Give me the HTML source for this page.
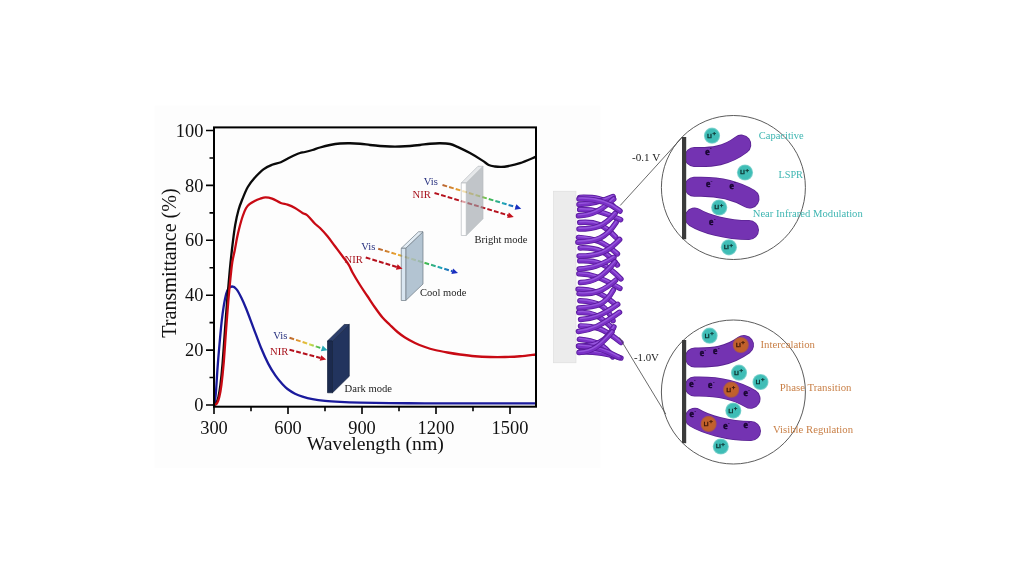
<!DOCTYPE html>
<html lang="en"><head><meta charset="utf-8"><title>Electrochromic modes</title>
<style>html,body{margin:0;padding:0;background:#fff;width:1024px;height:576px;overflow:hidden}svg{display:block}</style>
</head><body>
<svg width="1024" height="576" viewBox="0 0 1024 576">
<defs>
<linearGradient id="visB" gradientUnits="userSpaceOnUse" x1="442" y1="185" x2="521" y2="209"><stop offset="0" stop-color="#b5602f"/><stop offset=".22" stop-color="#e9a12e"/><stop offset=".42" stop-color="#e3dc4a"/><stop offset=".6" stop-color="#3fb84e"/><stop offset=".78" stop-color="#1fa6b8"/><stop offset="1" stop-color="#1a2fc0"/></linearGradient>
<linearGradient id="visC" gradientUnits="userSpaceOnUse" x1="378" y1="249" x2="458" y2="273"><stop offset="0" stop-color="#b5602f"/><stop offset=".22" stop-color="#e9a12e"/><stop offset=".42" stop-color="#e3dc4a"/><stop offset=".6" stop-color="#3fb84e"/><stop offset=".78" stop-color="#1fa6b8"/><stop offset="1" stop-color="#1a2fc0"/></linearGradient>
<linearGradient id="visD" gradientUnits="userSpaceOnUse" x1="289" y1="338" x2="327" y2="350"><stop offset="0" stop-color="#b5602f"/><stop offset=".3" stop-color="#e9a12e"/><stop offset=".55" stop-color="#d8dc4a"/><stop offset=".8" stop-color="#3fb84e"/><stop offset="1" stop-color="#1fa6b8"/></linearGradient>
<radialGradient id="teal"><stop offset="0" stop-color="#3fbdb6"/><stop offset=".8" stop-color="#3fbdb6"/><stop offset="1" stop-color="#3fbdb6" stop-opacity=".55"/></radialGradient>
<radialGradient id="org"><stop offset="0" stop-color="#c4622c"/><stop offset=".8" stop-color="#c0602c"/><stop offset="1" stop-color="#b2583a" stop-opacity=".7"/></radialGradient>
<linearGradient id="rodg" x1="0" y1="0" x2="0" y2="1"><stop offset="0" stop-color="#7d39bb"/><stop offset="1" stop-color="#6a2aa6"/></linearGradient>
</defs>
<rect width="1024" height="576" fill="#ffffff"/>
<rect x="154.6" y="105.6" width="446" height="362.4" fill="#fdfdfd"/>
<g fill="none" stroke-linejoin="round" stroke-linecap="round">
<path d="M214.00,405.00 C214.15,404.33 214.57,403.25 214.90,401.00 C215.23,398.75 215.55,397.13 216.00,391.50 C216.45,385.87 217.00,375.28 217.60,367.20 C218.20,359.12 218.87,351.10 219.60,343.00 C220.33,334.90 221.10,325.93 222.00,318.60 C222.90,311.27 224.00,303.87 225.00,299.00 C226.00,294.13 226.80,291.48 228.00,289.40 C229.20,287.32 230.77,286.50 232.20,286.50 C233.63,286.50 235.05,287.48 236.60,289.40 C238.15,291.32 239.88,294.73 241.50,298.00 C243.12,301.27 244.28,303.95 246.30,309.00 C248.32,314.05 251.15,321.83 253.60,328.30 C256.05,334.77 258.57,341.92 261.00,347.80 C263.43,353.68 265.78,358.95 268.20,363.60 C270.62,368.25 273.12,372.25 275.50,375.70 C277.88,379.15 280.50,382.08 282.50,384.30 C284.50,386.52 285.42,387.43 287.50,389.00 C289.58,390.57 292.50,392.42 295.00,393.70 C297.50,394.98 299.58,395.78 302.50,396.70 C305.42,397.62 308.75,398.50 312.50,399.20 C316.25,399.90 320.42,400.45 325.00,400.90 C329.58,401.35 334.17,401.62 340.00,401.90 C345.83,402.18 351.67,402.40 360.00,402.60 C368.33,402.80 379.17,402.98 390.00,403.10 C400.83,403.22 414.00,403.25 425.00,403.30 C436.00,403.35 443.50,403.38 456.00,403.40 C468.50,403.42 486.75,403.42 500.00,403.40 C513.25,403.38 529.58,403.32 535.50,403.30" stroke="#1a1a9c" stroke-width="2.3"/>
<path d="M214.00,405.00 C214.38,404.70 215.57,404.53 216.30,403.20 C217.03,401.87 217.72,400.03 218.40,397.00 C219.08,393.97 219.70,390.67 220.40,385.00 C221.10,379.33 221.85,372.00 222.60,363.00 C223.35,354.00 224.15,341.23 224.90,331.00 C225.65,320.77 226.28,311.77 227.10,301.60 C227.92,291.43 228.90,279.43 229.80,270.00 C230.70,260.57 231.60,252.50 232.50,245.00 C233.40,237.50 234.20,230.83 235.20,225.00 C236.20,219.17 237.27,214.40 238.50,210.00 C239.73,205.60 241.05,202.43 242.60,198.60 C244.15,194.77 245.78,190.47 247.80,187.00 C249.82,183.53 252.10,180.75 254.70,177.80 C257.30,174.85 260.50,171.47 263.40,169.30 C266.30,167.13 269.20,165.98 272.10,164.80 C275.00,163.62 278.23,163.21 280.80,162.20 C283.37,161.19 285.13,159.95 287.50,158.75 C289.87,157.55 292.92,155.96 295.00,155.00 C297.08,154.04 298.33,153.50 300.00,153.00 C301.67,152.50 302.92,152.50 305.00,152.00 C307.08,151.50 310.00,150.75 312.50,150.00 C315.00,149.25 317.08,148.33 320.00,147.50 C322.92,146.67 326.67,145.67 330.00,145.00 C333.33,144.33 336.67,143.79 340.00,143.50 C343.33,143.21 346.67,143.21 350.00,143.25 C353.33,143.29 356.67,143.46 360.00,143.75 C363.33,144.04 366.67,144.62 370.00,145.00 C373.33,145.38 376.67,145.75 380.00,146.00 C383.33,146.25 386.67,146.42 390.00,146.50 C393.33,146.58 396.67,146.58 400.00,146.50 C403.33,146.42 406.67,146.25 410.00,146.00 C413.33,145.75 416.67,145.38 420.00,145.00 C423.33,144.62 426.67,144.04 430.00,143.75 C433.33,143.46 436.67,143.21 440.00,143.25 C443.33,143.29 447.08,143.39 450.00,144.00 C452.92,144.61 454.17,145.38 457.50,146.90 C460.83,148.42 465.83,150.82 470.00,153.10 C474.17,155.38 479.38,158.62 482.50,160.60 C485.62,162.58 486.67,164.02 488.75,165.00 C490.83,165.98 492.92,166.18 495.00,166.50 C497.08,166.82 499.17,166.94 501.25,166.90 C503.33,166.86 504.38,166.88 507.50,166.25 C510.62,165.62 515.33,164.66 520.00,163.10 C524.67,161.54 532.92,157.93 535.50,156.90" stroke="#0a0a0a" stroke-width="2.3"/>
<path d="M214.00,405.00 C214.50,404.73 216.12,404.73 217.00,403.40 C217.88,402.07 218.57,400.07 219.30,397.00 C220.03,393.93 220.67,390.67 221.40,385.00 C222.13,379.33 222.93,372.00 223.70,363.00 C224.47,354.00 225.22,341.50 226.00,331.00 C226.78,320.50 227.67,308.72 228.40,300.00 C229.13,291.28 229.75,285.03 230.40,278.70 C231.05,272.37 231.57,266.78 232.30,262.00 C233.03,257.22 234.02,254.00 234.80,250.00 C235.58,246.00 236.25,241.67 237.00,238.00 C237.75,234.33 238.37,231.58 239.30,228.00 C240.23,224.42 241.48,219.78 242.60,216.50 C243.72,213.22 244.85,210.35 246.00,208.30 C247.15,206.25 248.05,205.42 249.50,204.20 C250.95,202.98 252.95,201.91 254.70,201.00 C256.45,200.09 258.20,199.37 260.00,198.75 C261.80,198.13 263.48,197.33 265.50,197.30 C267.52,197.28 269.55,197.65 272.10,198.60 C274.65,199.55 278.23,201.98 280.80,203.00 C283.37,204.02 285.13,203.87 287.50,204.70 C289.87,205.53 292.50,206.62 295.00,208.00 C297.50,209.38 300.42,211.75 302.50,213.00 C304.58,214.25 305.42,213.71 307.50,215.50 C309.58,217.29 312.92,221.67 315.00,223.75 C317.08,225.83 317.92,225.92 320.00,228.00 C322.08,230.08 325.00,233.21 327.50,236.25 C330.00,239.29 332.50,242.92 335.00,246.25 C337.50,249.58 340.21,253.16 342.50,256.25 C344.79,259.34 347.08,262.09 348.75,264.80 C350.42,267.51 350.62,269.13 352.50,272.50 C354.38,275.87 357.50,281.04 360.00,285.00 C362.50,288.96 365.00,292.50 367.50,296.25 C370.00,300.00 372.50,303.96 375.00,307.50 C377.50,311.04 380.00,314.58 382.50,317.50 C385.00,320.42 387.50,322.58 390.00,325.00 C392.50,327.42 395.00,329.92 397.50,332.00 C400.00,334.08 402.08,335.67 405.00,337.50 C407.92,339.33 411.67,341.42 415.00,343.00 C418.33,344.58 421.67,345.83 425.00,347.00 C428.33,348.17 431.25,349.08 435.00,350.00 C438.75,350.92 443.33,351.75 447.50,352.50 C451.67,353.25 455.42,353.88 460.00,354.50 C464.58,355.12 470.00,355.83 475.00,356.25 C480.00,356.67 485.00,356.88 490.00,357.00 C495.00,357.12 500.00,357.12 505.00,357.00 C510.00,356.88 514.92,356.67 520.00,356.25 C525.08,355.83 532.92,354.79 535.50,354.50" stroke="#c80a14" stroke-width="2.3"/>
</g>
<rect x="214" y="127.4" width="322" height="279.3" fill="none" stroke="#000" stroke-width="2"/>
<path d="M206,405.00H214M209.5,377.55H214M206,350.10H214M209.5,322.65H214M206,295.20H214M209.5,267.75H214M206,240.30H214M209.5,212.85H214M206,185.40H214M209.5,157.95H214M206,130.50H214M214.00,406.7V414M251.00,406.7V411.3M288.00,406.7V414M325.00,406.7V411.3M362.00,406.7V414M399.00,406.7V411.3M436.00,406.7V414M473.00,406.7V411.3M510.00,406.7V414" stroke="#000" stroke-width="1.6" fill="none"/>
<g font-family="'Liberation Serif',serif" font-size="18.4" fill="#111" text-anchor="end">
<text x="203.4" y="411.10">0</text>
<text x="203.4" y="356.20">20</text>
<text x="203.4" y="301.30">40</text>
<text x="203.4" y="246.40">60</text>
<text x="203.4" y="191.50">80</text>
<text x="203.4" y="136.60">100</text>
</g>
<g font-family="'Liberation Serif',serif" font-size="18.4" fill="#111" text-anchor="middle">
<text x="214.00" y="433.5">300</text>
<text x="288.00" y="433.5">600</text>
<text x="362.00" y="433.5">900</text>
<text x="436.00" y="433.5">1200</text>
<text x="510.00" y="433.5">1500</text>
</g>
<text x="375.3" y="450" font-family="'Liberation Serif',serif" font-size="19.6" fill="#111" text-anchor="middle" textLength="137" lengthAdjust="spacingAndGlyphs">Wavelength (nm)</text>
<text transform="translate(176,263) rotate(-90)" font-family="'Liberation Serif',serif" font-size="20" fill="#111" text-anchor="middle" textLength="149.5" lengthAdjust="spacingAndGlyphs">Transmittance (%)</text>
<path d="M434.50,193.00L508.01,215.26" stroke="#b5101c" stroke-width="2.0" stroke-dasharray="4.8 2.1" fill="none"/><polygon points="513.75,217.00 507.17,218.04 508.85,212.49" fill="#c4101c"/>
<path d="M442.50,185.00L515.51,207.02" stroke="url(#visB)" stroke-width="2.0" stroke-dasharray="4.8 2.1" fill="none"/><polygon points="521.25,208.75 514.67,209.79 516.34,204.24" fill="#1a2fc0"/>
<g stroke="#8d939a" stroke-width=".7" stroke-linejoin="round" opacity="0.62"><polygon points="466.25,183 483,166.25 483,218.75 466.25,235.5" fill="#9da3aa"/><polygon points="461.25,183 466.25,183 483,166.25 478.0,166.25" fill="#d8dce0"/><rect x="461.25" y="183" width="5.0" height="52.5" fill="#ffffff"/></g>
<text x="474.5" y="242.5" font-family="'Liberation Serif',serif" font-size="10.6" fill="#222" textLength="53" lengthAdjust="spacingAndGlyphs">Bright mode</text>
<text x="423.75" y="184.5" font-family="'Liberation Serif',serif" font-size="10.6" fill="#27307e">Vis</text>
<text x="412.5" y="198.25" font-family="'Liberation Serif',serif" font-size="10.6" fill="#a8141e">NIR</text>
<path d="M378.25,248.75L452.26,271.25" stroke="url(#visC)" stroke-width="2.0" stroke-dasharray="4.8 2.1" fill="none"/><polygon points="458.00,273.00 451.42,274.03 453.10,268.48" fill="#1a2fc0"/>
<g stroke="#44525e" stroke-width=".7" stroke-linejoin="round" opacity="0.78"><polygon points="405.75,248.25 423,231.75 423,284.0 405.75,300.5" fill="#9fb5c7"/><polygon points="401.25,248.25 405.75,248.25 423,231.75 418.5,231.75" fill="#dbe8f2"/><rect x="401.25" y="248.25" width="4.5" height="52.25" fill="#cfe0ee"/></g>
<path d="M365.75,257.50L396.76,266.99" stroke="#b5101c" stroke-width="2.0" stroke-dasharray="4.8 2.1" fill="none"/><polygon points="402.50,268.75 395.91,269.77 397.61,264.22" fill="#c4101c"/>
<text x="420" y="296.3" font-family="'Liberation Serif',serif" font-size="10.6" fill="#222" textLength="46.3" lengthAdjust="spacingAndGlyphs">Cool mode</text>
<text x="361.25" y="250" font-family="'Liberation Serif',serif" font-size="10.6" fill="#27307e">Vis</text>
<text x="344.5" y="262.5" font-family="'Liberation Serif',serif" font-size="10.6" fill="#a8141e">NIR</text>
<g stroke="#16223f" stroke-width=".7" stroke-linejoin="round" opacity="1"><polygon points="332.5,341 349.25,324.5 349.25,376.25 332.5,392.75" fill="#22345e"/><polygon points="327.5,341 332.5,341 349.25,324.5 344.25,324.5" fill="#2c3f6c"/><rect x="327.5" y="341" width="5.0" height="51.75" fill="#1b2a4e"/></g>
<path d="M289.50,337.75L321.80,348.38" stroke="url(#visD)" stroke-width="2.0" stroke-dasharray="4.8 2.1" fill="none"/><polygon points="327.50,350.25 320.89,351.13 322.71,345.62" fill="#23a7b4"/>
<path d="M289.50,349.75L320.45,357.96" stroke="#b5101c" stroke-width="2.0" stroke-dasharray="4.8 2.1" fill="none"/><polygon points="326.25,359.50 319.71,360.76 321.19,355.16" fill="#c4101c"/>
<text x="344.5" y="391.5" font-family="'Liberation Serif',serif" font-size="10.6" fill="#222" textLength="47.5" lengthAdjust="spacingAndGlyphs">Dark mode</text>
<text x="273.25" y="339" font-family="'Liberation Serif',serif" font-size="10.6" fill="#27307e">Vis</text>
<text x="270" y="355.25" font-family="'Liberation Serif',serif" font-size="10.6" fill="#a8141e">NIR</text>
<rect x="553.4" y="191.2" width="22.6" height="171.6" fill="#ececec" stroke="#dcdcdc" stroke-width=".6"/>
<g fill="none" stroke-linecap="round">
<path d="M579.8,197.4 C594.8,197.0 603.8,198.4 613.1,205.9" stroke="#571a98" stroke-width="5.5"/>
<path d="M579.8,197.4 C594.8,197.0 603.8,198.4 613.1,205.9" stroke="#7a30c6" stroke-width="4.0"/>
<path d="M579.8,197.4 C594.8,197.0 603.8,198.4 613.1,205.9" stroke="#9657dc" stroke-width="1.4" transform="translate(0,-.9)"/>
<path d="M579.0,204.4 C590.8,204.2 599.8,202.4 613.1,196.6" stroke="#571a98" stroke-width="5.5"/>
<path d="M579.0,204.4 C590.8,204.2 599.8,202.4 613.1,196.6" stroke="#7a30c6" stroke-width="4.0"/>
<path d="M579.0,204.4 C590.8,204.2 599.8,202.4 613.1,196.6" stroke="#9657dc" stroke-width="1.4" transform="translate(0,-.9)"/>
<path d="M579.7,209.6 C595.2,209.3 604.2,212.6 620.6,219.7" stroke="#571a98" stroke-width="5.5"/>
<path d="M579.7,209.6 C595.2,209.3 604.2,212.6 620.6,219.7" stroke="#7a30c6" stroke-width="4.0"/>
<path d="M579.7,209.6 C595.2,209.3 604.2,212.6 620.6,219.7" stroke="#9657dc" stroke-width="1.4" transform="translate(0,-.9)"/>
<path d="M578.5,215.8 C591.1,215.2 600.1,211.4 613.7,199.0" stroke="#571a98" stroke-width="5.5"/>
<path d="M578.5,215.8 C591.1,215.2 600.1,211.4 613.7,199.0" stroke="#7a30c6" stroke-width="4.0"/>
<path d="M578.5,215.8 C591.1,215.2 600.1,211.4 613.7,199.0" stroke="#9657dc" stroke-width="1.4" transform="translate(0,-.9)"/>
<path d="M579.7,222.6 C594.9,221.3 603.9,224.3 615.7,237.1" stroke="#571a98" stroke-width="5.5"/>
<path d="M579.7,222.6 C594.9,221.3 603.9,224.3 615.7,237.1" stroke="#7a30c6" stroke-width="4.0"/>
<path d="M579.7,222.6 C594.9,221.3 603.9,224.3 615.7,237.1" stroke="#9657dc" stroke-width="1.4" transform="translate(0,-.9)"/>
<path d="M579.0,229.1 C595.3,229.0 604.3,226.6 615.2,213.3" stroke="#571a98" stroke-width="5.5"/>
<path d="M579.0,229.1 C595.3,229.0 604.3,226.6 615.2,213.3" stroke="#7a30c6" stroke-width="4.0"/>
<path d="M579.0,229.1 C595.3,229.0 604.3,226.6 615.2,213.3" stroke="#9657dc" stroke-width="1.4" transform="translate(0,-.9)"/>
<path d="M578.4,237.4 C594.7,238.6 603.7,241.5 617.4,253.9" stroke="#571a98" stroke-width="5.5"/>
<path d="M578.4,237.4 C594.7,238.6 603.7,241.5 617.4,253.9" stroke="#7a30c6" stroke-width="4.0"/>
<path d="M578.4,237.4 C594.7,238.6 603.7,241.5 617.4,253.9" stroke="#9657dc" stroke-width="1.4" transform="translate(0,-.9)"/>
<path d="M577.9,242.2 C596.8,241.2 605.8,238.3 616.1,222.5" stroke="#571a98" stroke-width="5.5"/>
<path d="M577.9,242.2 C596.8,241.2 605.8,238.3 616.1,222.5" stroke="#7a30c6" stroke-width="4.0"/>
<path d="M577.9,242.2 C596.8,241.2 605.8,238.3 616.1,222.5" stroke="#9657dc" stroke-width="1.4" transform="translate(0,-.9)"/>
<path d="M580.2,247.9 C597.9,247.3 606.9,251.9 617.4,264.9" stroke="#571a98" stroke-width="5.5"/>
<path d="M580.2,247.9 C597.9,247.3 606.9,251.9 617.4,264.9" stroke="#7a30c6" stroke-width="4.0"/>
<path d="M580.2,247.9 C597.9,247.3 606.9,251.9 617.4,264.9" stroke="#9657dc" stroke-width="1.4" transform="translate(0,-.9)"/>
<path d="M579.1,256.1 C598.5,256.0 607.5,252.2 619.6,239.5" stroke="#571a98" stroke-width="5.5"/>
<path d="M579.1,256.1 C598.5,256.0 607.5,252.2 619.6,239.5" stroke="#7a30c6" stroke-width="4.0"/>
<path d="M579.1,256.1 C598.5,256.0 607.5,252.2 619.6,239.5" stroke="#9657dc" stroke-width="1.4" transform="translate(0,-.9)"/>
<path d="M579.8,260.8 C597.4,260.1 606.4,264.0 620.9,278.9" stroke="#571a98" stroke-width="5.5"/>
<path d="M579.8,260.8 C597.4,260.1 606.4,264.0 620.9,278.9" stroke="#7a30c6" stroke-width="4.0"/>
<path d="M579.8,260.8 C597.4,260.1 606.4,264.0 620.9,278.9" stroke="#9657dc" stroke-width="1.4" transform="translate(0,-.9)"/>
<path d="M579.1,269.1 C591.1,267.8 600.1,266.1 613.9,257.3" stroke="#571a98" stroke-width="5.5"/>
<path d="M579.1,269.1 C591.1,267.8 600.1,266.1 613.9,257.3" stroke="#7a30c6" stroke-width="4.0"/>
<path d="M579.1,269.1 C591.1,267.8 600.1,266.1 613.9,257.3" stroke="#9657dc" stroke-width="1.4" transform="translate(0,-.9)"/>
<path d="M578.9,273.8 C590.7,273.7 599.7,276.9 619.9,288.3" stroke="#571a98" stroke-width="5.5"/>
<path d="M578.9,273.8 C590.7,273.7 599.7,276.9 619.9,288.3" stroke="#7a30c6" stroke-width="4.0"/>
<path d="M578.9,273.8 C590.7,273.7 599.7,276.9 619.9,288.3" stroke="#9657dc" stroke-width="1.4" transform="translate(0,-.9)"/>
<path d="M580.5,282.6 C593.7,282.2 602.7,276.9 614.9,262.0" stroke="#571a98" stroke-width="5.5"/>
<path d="M580.5,282.6 C593.7,282.2 602.7,276.9 614.9,262.0" stroke="#7a30c6" stroke-width="4.0"/>
<path d="M580.5,282.6 C593.7,282.2 602.7,276.9 614.9,262.0" stroke="#9657dc" stroke-width="1.4" transform="translate(0,-.9)"/>
<path d="M578.1,289.3 C592.1,289.3 601.1,292.4 614.5,303.6" stroke="#571a98" stroke-width="5.5"/>
<path d="M578.1,289.3 C592.1,289.3 601.1,292.4 614.5,303.6" stroke="#7a30c6" stroke-width="4.0"/>
<path d="M578.1,289.3 C592.1,289.3 601.1,292.4 614.5,303.6" stroke="#9657dc" stroke-width="1.4" transform="translate(0,-.9)"/>
<path d="M579.0,293.5 C595.1,294.9 604.1,290.3 615.6,280.2" stroke="#571a98" stroke-width="5.5"/>
<path d="M579.0,293.5 C595.1,294.9 604.1,290.3 615.6,280.2" stroke="#7a30c6" stroke-width="4.0"/>
<path d="M579.0,293.5 C595.1,294.9 604.1,290.3 615.6,280.2" stroke="#9657dc" stroke-width="1.4" transform="translate(0,-.9)"/>
<path d="M579.9,300.7 C598.1,301.6 607.1,306.2 613.0,320.6" stroke="#571a98" stroke-width="5.5"/>
<path d="M579.9,300.7 C598.1,301.6 607.1,306.2 613.0,320.6" stroke="#7a30c6" stroke-width="4.0"/>
<path d="M579.9,300.7 C598.1,301.6 607.1,306.2 613.0,320.6" stroke="#9657dc" stroke-width="1.4" transform="translate(0,-.9)"/>
<path d="M578.9,308.0 C595.7,306.7 604.7,306.0 613.4,290.0" stroke="#571a98" stroke-width="5.5"/>
<path d="M578.9,308.0 C595.7,306.7 604.7,306.0 613.4,290.0" stroke="#7a30c6" stroke-width="4.0"/>
<path d="M578.9,308.0 C595.7,306.7 604.7,306.0 613.4,290.0" stroke="#9657dc" stroke-width="1.4" transform="translate(0,-.9)"/>
<path d="M578.7,312.6 C590.0,311.5 599.0,314.5 612.9,328.7" stroke="#571a98" stroke-width="5.5"/>
<path d="M578.7,312.6 C590.0,311.5 599.0,314.5 612.9,328.7" stroke="#7a30c6" stroke-width="4.0"/>
<path d="M578.7,312.6 C590.0,311.5 599.0,314.5 612.9,328.7" stroke="#9657dc" stroke-width="1.4" transform="translate(0,-.9)"/>
<path d="M580.6,319.5 C591.3,318.7 600.3,316.9 617.7,304.3" stroke="#571a98" stroke-width="5.5"/>
<path d="M580.6,319.5 C591.3,318.7 600.3,316.9 617.7,304.3" stroke="#7a30c6" stroke-width="4.0"/>
<path d="M580.6,319.5 C591.3,318.7 600.3,316.9 617.7,304.3" stroke="#9657dc" stroke-width="1.4" transform="translate(0,-.9)"/>
<path d="M580.5,325.9 C594.2,325.9 603.2,327.8 620.9,342.5" stroke="#571a98" stroke-width="5.5"/>
<path d="M580.5,325.9 C594.2,325.9 603.2,327.8 620.9,342.5" stroke="#7a30c6" stroke-width="4.0"/>
<path d="M580.5,325.9 C594.2,325.9 603.2,327.8 620.9,342.5" stroke="#9657dc" stroke-width="1.4" transform="translate(0,-.9)"/>
<path d="M578.4,331.5 C591.5,330.0 600.5,325.9 619.5,312.3" stroke="#571a98" stroke-width="5.5"/>
<path d="M578.4,331.5 C591.5,330.0 600.5,325.9 619.5,312.3" stroke="#7a30c6" stroke-width="4.0"/>
<path d="M578.4,331.5 C591.5,330.0 600.5,325.9 619.5,312.3" stroke="#9657dc" stroke-width="1.4" transform="translate(0,-.9)"/>
<path d="M579.4,339.3 C594.8,340.7 603.8,344.1 612.7,356.9" stroke="#571a98" stroke-width="5.5"/>
<path d="M579.4,339.3 C594.8,340.7 603.8,344.1 612.7,356.9" stroke="#7a30c6" stroke-width="4.0"/>
<path d="M579.4,339.3 C594.8,340.7 603.8,344.1 612.7,356.9" stroke="#9657dc" stroke-width="1.4" transform="translate(0,-.9)"/>
<path d="M578.8,346.2 C596.9,346.3 605.9,341.3 613.9,327.0" stroke="#571a98" stroke-width="5.5"/>
<path d="M578.8,346.2 C596.9,346.3 605.9,341.3 613.9,327.0" stroke="#7a30c6" stroke-width="4.0"/>
<path d="M578.8,346.2 C596.9,346.3 605.9,341.3 613.9,327.0" stroke="#9657dc" stroke-width="1.4" transform="translate(0,-.9)"/>
<path d="M580.3,351.5 C597.7,352.4 606.7,353.2 620.9,358.0" stroke="#571a98" stroke-width="5.5"/>
<path d="M580.3,351.5 C597.7,352.4 606.7,353.2 620.9,358.0" stroke="#7a30c6" stroke-width="4.0"/>
<path d="M580.3,351.5 C597.7,352.4 606.7,353.2 620.9,358.0" stroke="#9657dc" stroke-width="1.4" transform="translate(0,-.9)"/>
<path d="M578.5,346 C592,346 604,349 619,357.5" stroke="#571a98" stroke-width="5.5"/>
<path d="M578.5,346 C592,346 604,349 619,357.5" stroke="#7a30c6" stroke-width="4.0"/>
<path d="M578.5,346 C592,346 604,349 619,357.5" stroke="#9657dc" stroke-width="1.4" transform="translate(0,-.9)"/>
<path d="M579,352.5 C592,352 600,346 612,332" stroke="#571a98" stroke-width="5.5"/>
<path d="M579,352.5 C592,352 600,346 612,332" stroke="#7a30c6" stroke-width="4.0"/>
<path d="M579,352.5 C592,352 600,346 612,332" stroke="#9657dc" stroke-width="1.4" transform="translate(0,-.9)"/>
<path d="M579,199 C592,198.5 606,200 620,211" stroke="#571a98" stroke-width="5.5"/>
<path d="M579,199 C592,198.5 606,200 620,211" stroke="#7a30c6" stroke-width="4.0"/>
<path d="M579,199 C592,198.5 606,200 620,211" stroke="#9657dc" stroke-width="1.4" transform="translate(0,-.9)"/>
</g>
<path d="M620.2,205.5L682.6,136.9M619.4,337.5L665.8,414.1" stroke="#444" stroke-width=".8" fill="none"/>
<circle cx="733.4" cy="187.5" r="72" fill="none" stroke="#4a4a4a" stroke-width=".9"/>
<circle cx="733.4" cy="392" r="72" fill="none" stroke="#4a4a4a" stroke-width=".9"/>
<path d="M694.3,157 C712,157.6 726,156.2 741.3,144.6" stroke="#5a2392" stroke-width="20" fill="none" stroke-linecap="round" stroke-linejoin="round"/><path d="M694.3,157 C712,157.6 726,156.2 741.3,144.6" stroke="#7433b2" stroke-width="18.4" fill="none" stroke-linecap="round" stroke-linejoin="round"/>
<path d="M694.3,186.8 C712,186 732,188 749.5,198.5" stroke="#5a2392" stroke-width="20" fill="none" stroke-linecap="round" stroke-linejoin="round"/><path d="M694.3,186.8 C712,186 732,188 749.5,198.5" stroke="#7433b2" stroke-width="18.4" fill="none" stroke-linecap="round" stroke-linejoin="round"/>
<path d="M694.6,217.4 C705,223.8 726,230 749,230" stroke="#5a2392" stroke-width="20" fill="none" stroke-linecap="round" stroke-linejoin="round"/><path d="M694.6,217.4 C705,223.8 726,230 749,230" stroke="#7433b2" stroke-width="18.4" fill="none" stroke-linecap="round" stroke-linejoin="round"/>
<circle cx="712.0" cy="135.7" r="8.1" fill="url(#teal)"/><text x="707.2" y="137.6" font-family="'Liberation Sans',sans-serif" font-weight="bold" font-size="5.2" fill="#0b2e2c" stroke="#0b2e2c" stroke-width=".3">Li<tspan dx=".7" dy="-2.5" font-size="6" stroke-width=".25">+</tspan></text>
<circle cx="745.0" cy="172.5" r="8.1" fill="url(#teal)"/><text x="740.2" y="174.4" font-family="'Liberation Sans',sans-serif" font-weight="bold" font-size="5.2" fill="#0b2e2c" stroke="#0b2e2c" stroke-width=".3">Li<tspan dx=".7" dy="-2.5" font-size="6" stroke-width=".25">+</tspan></text>
<circle cx="719.2" cy="207.5" r="8.1" fill="url(#teal)"/><text x="714.4" y="209.4" font-family="'Liberation Sans',sans-serif" font-weight="bold" font-size="5.2" fill="#0b2e2c" stroke="#0b2e2c" stroke-width=".3">Li<tspan dx=".7" dy="-2.5" font-size="6" stroke-width=".25">+</tspan></text>
<circle cx="728.9" cy="247.3" r="8.1" fill="url(#teal)"/><text x="724.1" y="249.2" font-family="'Liberation Sans',sans-serif" font-weight="bold" font-size="5.2" fill="#0b2e2c" stroke="#0b2e2c" stroke-width=".3">Li<tspan dx=".7" dy="-2.5" font-size="6" stroke-width=".25">+</tspan></text>
<text x="705.2" y="154.5" font-family="'Liberation Serif',serif" font-weight="bold" font-size="9.6" fill="#190632" stroke="#190632" stroke-width=".55">e<tspan dx=".3" dy="-4.1" font-size="6" stroke="none">-</tspan></text>
<text x="706.0" y="186.9" font-family="'Liberation Serif',serif" font-weight="bold" font-size="9.6" fill="#190632" stroke="#190632" stroke-width=".55">e<tspan dx=".3" dy="-4.1" font-size="6" stroke="none">-</tspan></text>
<text x="729.4" y="188.5" font-family="'Liberation Serif',serif" font-weight="bold" font-size="9.6" fill="#190632" stroke="#190632" stroke-width=".55">e<tspan dx=".3" dy="-4.1" font-size="6" stroke="none">-</tspan></text>
<text x="709.1" y="225.1" font-family="'Liberation Serif',serif" font-weight="bold" font-size="9.6" fill="#190632" stroke="#190632" stroke-width=".55">e<tspan dx=".3" dy="-4.1" font-size="6" stroke="none">-</tspan></text>
<path d="M694.8,357.5 C714,357.8 728,356.4 744,345" stroke="#5a2392" stroke-width="20" fill="none" stroke-linecap="round" stroke-linejoin="round"/><path d="M694.8,357.5 C714,357.8 728,356.4 744,345" stroke="#7433b2" stroke-width="18.4" fill="none" stroke-linecap="round" stroke-linejoin="round"/>
<path d="M694.6,386.5 C713,386 733,388 750.5,398.8" stroke="#5a2392" stroke-width="20" fill="none" stroke-linecap="round" stroke-linejoin="round"/><path d="M694.6,386.5 C713,386 733,388 750.5,398.8" stroke="#7433b2" stroke-width="18.4" fill="none" stroke-linecap="round" stroke-linejoin="round"/>
<path d="M694.8,417.8 C705,424 727,431 751,431" stroke="#5a2392" stroke-width="20" fill="none" stroke-linecap="round" stroke-linejoin="round"/><path d="M694.8,417.8 C705,424 727,431 751,431" stroke="#7433b2" stroke-width="18.4" fill="none" stroke-linecap="round" stroke-linejoin="round"/>
<circle cx="709.6" cy="335.7" r="8.1" fill="url(#teal)"/><text x="704.8" y="337.6" font-family="'Liberation Sans',sans-serif" font-weight="bold" font-size="5.2" fill="#0b2e2c" stroke="#0b2e2c" stroke-width=".3">Li<tspan dx=".7" dy="-2.5" font-size="6" stroke-width=".25">+</tspan></text>
<circle cx="739.0" cy="372.7" r="8.1" fill="url(#teal)"/><text x="734.2" y="374.6" font-family="'Liberation Sans',sans-serif" font-weight="bold" font-size="5.2" fill="#0b2e2c" stroke="#0b2e2c" stroke-width=".3">Li<tspan dx=".7" dy="-2.5" font-size="6" stroke-width=".25">+</tspan></text>
<circle cx="760.5" cy="382.0" r="8.1" fill="url(#teal)"/><text x="755.7" y="383.9" font-family="'Liberation Sans',sans-serif" font-weight="bold" font-size="5.2" fill="#0b2e2c" stroke="#0b2e2c" stroke-width=".3">Li<tspan dx=".7" dy="-2.5" font-size="6" stroke-width=".25">+</tspan></text>
<circle cx="733.3" cy="410.6" r="8.1" fill="url(#teal)"/><text x="728.5" y="412.5" font-family="'Liberation Sans',sans-serif" font-weight="bold" font-size="5.2" fill="#0b2e2c" stroke="#0b2e2c" stroke-width=".3">Li<tspan dx=".7" dy="-2.5" font-size="6" stroke-width=".25">+</tspan></text>
<circle cx="720.8" cy="446.5" r="8.1" fill="url(#teal)"/><text x="716.0" y="448.4" font-family="'Liberation Sans',sans-serif" font-weight="bold" font-size="5.2" fill="#0b2e2c" stroke="#0b2e2c" stroke-width=".3">Li<tspan dx=".7" dy="-2.5" font-size="6" stroke-width=".25">+</tspan></text>
<circle cx="740.8" cy="345.0" r="8.1" fill="url(#org)"/><text x="736.0" y="346.9" font-family="'Liberation Sans',sans-serif" font-weight="bold" font-size="5.2" fill="#3a1406" stroke="#3a1406" stroke-width=".3">Li<tspan dx=".7" dy="-2.5" font-size="6" stroke-width=".25">+</tspan></text>
<circle cx="731.2" cy="389.7" r="8.1" fill="url(#org)"/><text x="726.4" y="391.6" font-family="'Liberation Sans',sans-serif" font-weight="bold" font-size="5.2" fill="#3a1406" stroke="#3a1406" stroke-width=".3">Li<tspan dx=".7" dy="-2.5" font-size="6" stroke-width=".25">+</tspan></text>
<circle cx="708.6" cy="423.9" r="8.1" fill="url(#org)"/><text x="703.8" y="425.8" font-family="'Liberation Sans',sans-serif" font-weight="bold" font-size="5.2" fill="#3a1406" stroke="#3a1406" stroke-width=".3">Li<tspan dx=".7" dy="-2.5" font-size="6" stroke-width=".25">+</tspan></text>
<text x="699.7" y="355.9" font-family="'Liberation Serif',serif" font-weight="bold" font-size="9.6" fill="#190632" stroke="#190632" stroke-width=".55">e<tspan dx=".3" dy="-4.1" font-size="6" stroke="none">-</tspan></text>
<text x="713.1" y="353.8" font-family="'Liberation Serif',serif" font-weight="bold" font-size="9.6" fill="#190632" stroke="#190632" stroke-width=".55">e<tspan dx=".3" dy="-4.1" font-size="6" stroke="none">-</tspan></text>
<text x="689.3" y="386.5" font-family="'Liberation Serif',serif" font-weight="bold" font-size="9.6" fill="#190632" stroke="#190632" stroke-width=".55">e<tspan dx=".3" dy="-4.1" font-size="6" stroke="none">-</tspan></text>
<text x="708.1" y="387.9" font-family="'Liberation Serif',serif" font-weight="bold" font-size="9.6" fill="#190632" stroke="#190632" stroke-width=".55">e<tspan dx=".3" dy="-4.1" font-size="6" stroke="none">-</tspan></text>
<text x="743.5" y="395.6" font-family="'Liberation Serif',serif" font-weight="bold" font-size="9.6" fill="#190632" stroke="#190632" stroke-width=".55">e<tspan dx=".3" dy="-4.1" font-size="6" stroke="none">-</tspan></text>
<text x="689.6" y="416.6" font-family="'Liberation Serif',serif" font-weight="bold" font-size="9.6" fill="#190632" stroke="#190632" stroke-width=".55">e<tspan dx=".3" dy="-4.1" font-size="6" stroke="none">-</tspan></text>
<text x="723.2" y="429.1" font-family="'Liberation Serif',serif" font-weight="bold" font-size="9.6" fill="#190632" stroke="#190632" stroke-width=".55">e<tspan dx=".3" dy="-4.1" font-size="6" stroke="none">-</tspan></text>
<text x="743.5" y="428.4" font-family="'Liberation Serif',serif" font-weight="bold" font-size="9.6" fill="#190632" stroke="#190632" stroke-width=".55">e<tspan dx=".3" dy="-4.1" font-size="6" stroke="none">-</tspan></text>
<rect x="682" y="137" width="4.2" height="102.2" fill="#3b3b3b"/>
<rect x="682" y="340" width="4.2" height="103.2" fill="#3b3b3b"/>
<text x="632" y="160.5" font-family="'Liberation Serif',serif" font-size="11.4" fill="#222" textLength="28.3" lengthAdjust="spacingAndGlyphs">-0.1 V</text>
<text x="633.9" y="360.5" font-family="'Liberation Serif',serif" font-size="11.4" fill="#222" textLength="25" lengthAdjust="spacingAndGlyphs">-1.0V</text>
<g font-family="'Liberation Serif',serif" font-size="11" fill="#3fb6b2">
<text x="758.7" y="138.7" textLength="45" lengthAdjust="spacingAndGlyphs">Capacitive</text>
<text x="778.4" y="178" textLength="24.6" lengthAdjust="spacingAndGlyphs">LSPR</text>
<text x="752.7" y="217" textLength="110.1" lengthAdjust="spacingAndGlyphs">Near Infrared Modulation</text>
</g>
<g font-family="'Liberation Serif',serif" font-size="11" fill="#c98048">
<text x="760.5" y="348.4" textLength="54.5" lengthAdjust="spacingAndGlyphs">Intercalation</text>
<text x="779.8" y="391" textLength="71.7" lengthAdjust="spacingAndGlyphs">Phase Transition</text>
<text x="773" y="433" textLength="80" lengthAdjust="spacingAndGlyphs">Visible Regulation</text>
</g>
</svg>
</body></html>
